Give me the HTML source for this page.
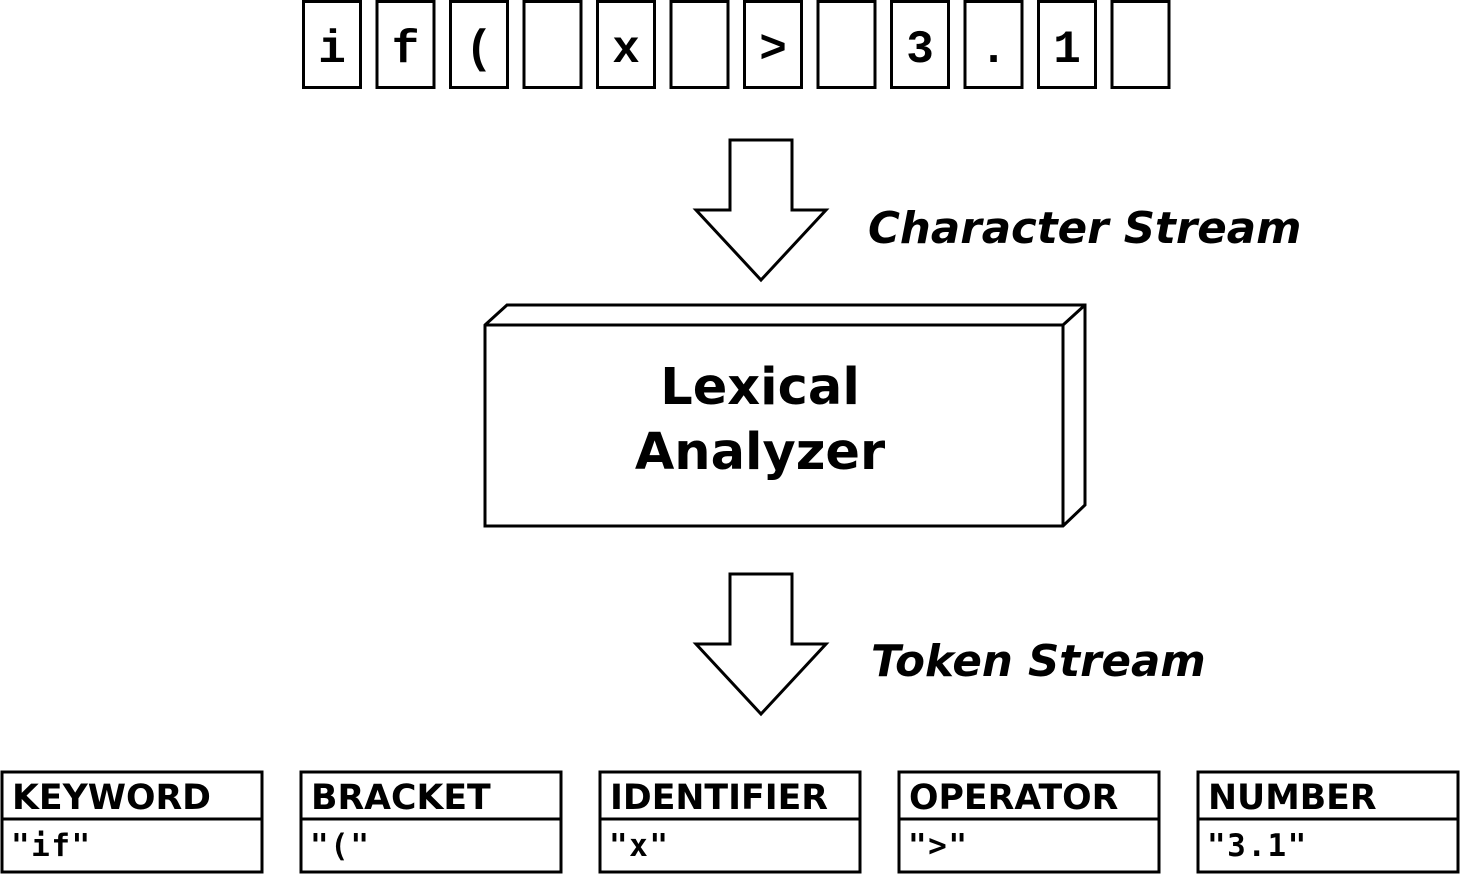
<!DOCTYPE html>
<html><head><meta charset="utf-8"><style>html,body{margin:0;padding:0;background:#fff}svg{display:block}</style></head><body>
<svg width="1461" height="876" viewBox="0 0 1461 876" xmlns="http://www.w3.org/2000/svg">
<g fill="#fff" stroke="#000" stroke-width="3">
<rect x="303.5" y="1.5" width="57" height="86"/>
<rect x="377" y="1.5" width="57" height="86"/>
<rect x="450.5" y="1.5" width="57" height="86"/>
<rect x="524" y="1.5" width="57" height="86"/>
<rect x="597.5" y="1.5" width="57" height="86"/>
<rect x="671" y="1.5" width="57" height="86"/>
<rect x="744.5" y="1.5" width="57" height="86"/>
<rect x="818" y="1.5" width="57" height="86"/>
<rect x="891.5" y="1.5" width="57" height="86"/>
<rect x="965" y="1.5" width="57" height="86"/>
<rect x="1038.5" y="1.5" width="57" height="86"/>
<rect x="1112" y="1.5" width="57" height="86"/>
<polygon points="730,140 792,140 792,210 826,210 761,280 696,210 730,210"/>
<polygon points="730,574 792,574 792,644 826,644 761,714 696,644 730,644"/>
<polygon points="485,325 507,305 1085,305 1085,505 1063,526 485,526"/>
<polyline points="485,325 1063,325 1063,526" fill="none"/>
<line x1="1063" y1="325" x2="1085" y2="305"/>
</g>
<g font-family="'Liberation Mono',monospace" font-weight="bold" font-size="46" text-anchor="middle">
<text x="332" y="62">i</text><text x="405.5" y="62">f</text><text x="479" y="62">(</text>
<text x="626" y="62">x</text><text x="773" y="62">&gt;</text><text x="920" y="62">3</text>
<text x="993.5" y="62">.</text><text x="1067" y="62">1</text>
</g>
<g font-family="'DejaVu Sans',sans-serif" font-weight="bold" font-style="italic" font-size="43.5">
<text x="868" y="243">Character Stream</text>
<text x="871" y="676">Token Stream</text>
</g>
<g font-family="'DejaVu Sans',sans-serif" font-weight="bold" font-size="51" text-anchor="middle">
<text x="760" y="404">Lexical</text>
<text x="760" y="469">Analyzer</text>
</g>
<g fill="#fff" stroke="#000" stroke-width="3">
<rect x="2" y="772" width="260" height="100"/><line x1="2" y1="819" x2="262" y2="819"/>
<rect x="301" y="772" width="260" height="100"/><line x1="301" y1="819" x2="561" y2="819"/>
<rect x="600" y="772" width="260" height="100"/><line x1="600" y1="819" x2="860" y2="819"/>
<rect x="899" y="772" width="260" height="100"/><line x1="899" y1="819" x2="1159" y2="819"/>
<rect x="1198" y="772" width="260" height="100"/><line x1="1198" y1="819" x2="1458" y2="819"/>
</g>
<g font-family="'DejaVu Sans',sans-serif" font-weight="bold" font-size="34.7">
<text x="12" y="809">KEYWORD</text><text x="311" y="809">BRACKET</text>
<text x="610" y="809">IDENTIFIER</text><text x="909" y="809">OPERATOR</text>
<text x="1208" y="809">NUMBER</text>
</g>
<g font-family="'DejaVu Sans Mono',monospace" font-weight="bold" font-size="31" letter-spacing="1.5">
<text x="11" y="856">"if"</text><text x="310" y="856">"("</text>
<text x="609" y="856">"x"</text><text x="908" y="856">"&gt;"</text>
<text x="1207" y="856">"3.1"</text>
</g>
</svg>
</body></html>
